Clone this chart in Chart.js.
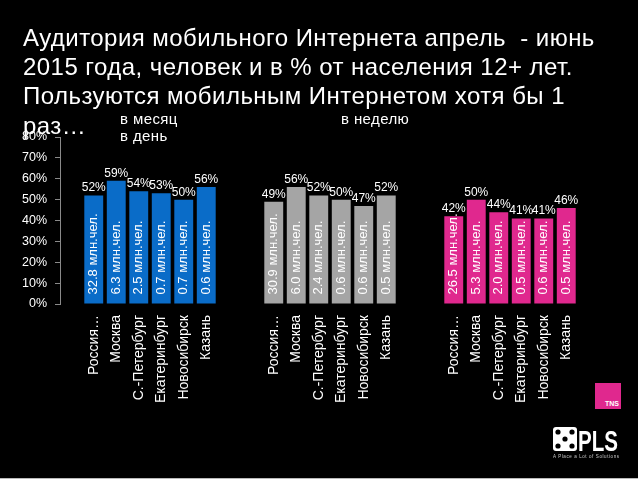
<!DOCTYPE html>
<html>
<head>
<meta charset="utf-8">
<script src="https://cdn.jsdelivr.net/npm/chart.js@4"></script>
<style>
  html, body { margin: 0; padding: 0; background: #000; }
  #wrap { position: relative; width: 638px; height: 478px; border-bottom: 1px solid #bbb; overflow: hidden; font-family: "Liberation Sans", Arial, sans-serif; color: #fff; }
  #chart { position: absolute; left: 0; top: 0; }
  .title { position: absolute; left: 23px; top: 22.7px; font-size: 24px; line-height: 29.3px; letter-spacing: 0.45px; white-space: nowrap; }
  .sub { position: absolute; font-size: 15px; line-height: 17px; letter-spacing: 0.4px; }
  #tns { position: absolute; left: 595px; top: 383px; width: 26px; height: 26px; background: #e0288e; }
  #tns span { position: absolute; right: 2px; bottom: 2px; font-size: 7px; font-weight: bold; }
  #pls { position: absolute; left: 552px; top: 426px; width: 70px; height: 36px; }
</style>
</head>
<body>
<div id="wrap">
  <canvas id="chart" width="638" height="478"></canvas>
  <div class="title">Аудитория мобильного Интернета апрель&nbsp; - июнь<br>2015 года, человек и в % от населения 12+ лет.<br>Пользуются мобильным Интернетом хотя бы 1<br>раз…</div>
  <div class="sub" style="left:120px; top:109.6px;">в месяц</div>
  <div class="sub" style="left:120px; top:127px;">в день</div>
  <div class="sub" style="left:341px; top:109.6px;">в неделю</div>
  <div id="tns"><span>TNS</span></div>
  <svg id="pls" viewBox="0 0 70 36">
    <rect x="1" y="1" width="24" height="24" rx="3" fill="#fff"/>
    <circle cx="6" cy="6" r="2.6" fill="#000"/><circle cx="20" cy="6" r="2.6" fill="#000"/>
    <circle cx="13" cy="13" r="2.6" fill="#000"/>
    <circle cx="6" cy="20" r="2.6" fill="#000"/><circle cx="20" cy="20" r="2.6" fill="#000"/>
    <text x="26" y="25" fill="#fff" font-size="29" font-weight="bold" font-family="Liberation Sans Narrow, Liberation Sans, Arial" textLength="40" lengthAdjust="spacingAndGlyphs">PLS</text>
    <text x="1" y="32" fill="#ccc" font-size="4.5" font-family="Liberation Sans, Arial" textLength="66" lengthAdjust="spacing">A Place a Lot of Solutions</text>
  </svg>
</div>
<script>
const cities = ['Россия…', 'Москва', 'С.-Петербург', 'Екатеринбург', 'Новосибирск', 'Казань'];

// % of population 12+
const monthPct = [52, 59, 54, 53, 50, 56];
const weekPct = [49, 56, 52, 50, 47, 52];
const dayPct = [42, 50, 44, 41, 41, 46];

// million people
const monthPeople = [32.8, 6.3, 2.5, 0.7, 0.7, 0.6];
const weekPeople = [30.9, 6.0, 2.4, 0.6, 0.6, 0.5];
const dayPeople = [26.5, 5.3, 2.0, 0.5, 0.6, 0.5];

const yTicks = [0, 10, 20, 30, 40, 50, 60, 70, 80];

// slots: gap, group 1, 2 gaps, group 2, 2 gaps, group 3, gap
const gap = [''];
const labels = [...gap, ...cities, '', '', ...cities, '', '', ...cities, ...gap];

function place(values, group) {
  const out = labels.map(() => null);
  const start = 1 + group * 8;
  values.forEach((v, i) => { out[start + i] = v; });
  return out;
}

const people = [monthPeople, weekPeople, dayPeople];

const barLabels = {
  id: 'barLabels',
  afterDatasetsDraw(chart) {
    const ctx = chart.ctx;
    chart.data.datasets.forEach((ds, di) => {
      const meta = chart.getDatasetMeta(di);
      const start = 1 + di * 8;
      meta.data.forEach((bar, i) => {
        const v = ds.data[i];
        if (v == null) return;
        ctx.save();
        ctx.fillStyle = '#fff';
        ctx.font = '12px "Liberation Sans", Arial, sans-serif';
        ctx.textAlign = 'center';
        ctx.textBaseline = 'alphabetic';
        ctx.fillText(v + '%', bar.x, bar.y - 4);
        // people count inside bar, rotated
        const p = people[di][i - start];
        ctx.font = '13px "Liberation Sans", Arial, sans-serif';
        ctx.translate(bar.x, bar.base - 9);
        ctx.rotate(-Math.PI / 2);
        ctx.textAlign = 'left';
        ctx.textBaseline = 'middle';
        ctx.fillText(p.toFixed(1) + ' млн.чел.', 0, 0);
        ctx.restore();
      });
    });
  }
};

new Chart(document.getElementById('chart'), {
  type: 'bar',
  data: {
    labels: labels,
    datasets: [
      { label: 'в месяц', data: place(monthPct, 0), backgroundColor: '#0a6cc8' },
      { label: 'в неделю', data: place(weekPct, 1), backgroundColor: '#a5a5a5' },
      { label: 'в день', data: place(dayPct, 2), backgroundColor: '#e0288e' }
    ]
  },
  options: {
    responsive: false,
    animation: false,
    layout: { padding: { left: 0, top: 137, right: 38, bottom: 0 } },
    datasets: { bar: { grouped: false, categoryPercentage: 1, barPercentage: 0.84 } },
    plugins: { legend: { display: false }, tooltip: { enabled: false } },
    scales: {
      x: {
        afterFit: s => { s.height = 174; },
        grid: { display: false },
        border: { display: false },
        ticks: {
          color: '#fff',
          font: { size: 14, family: '"Liberation Sans", Arial, sans-serif' },
          minRotation: 90, maxRotation: 90, autoSkip: false, padding: 3
        }
      },
      y: {
        min: 0, max: 80,
        afterFit: s => { s.width = 60; },
        afterBuildTicks: s => { s.ticks = yTicks.map(v => ({ value: v })); },
        border: { display: true, color: '#8a8a8a' },
        grid: { display: true, drawOnChartArea: false, drawTicks: true, tickLength: 5, color: '#8a8a8a' },
        ticks: {
          color: '#fff',
          padding: 8,
          font: { size: 12.5, family: '"Liberation Sans", Arial, sans-serif' },
          callback: v => v + '%'
        }
      }
    }
  },
  plugins: [barLabels]
});
</script>
</body>
</html>
